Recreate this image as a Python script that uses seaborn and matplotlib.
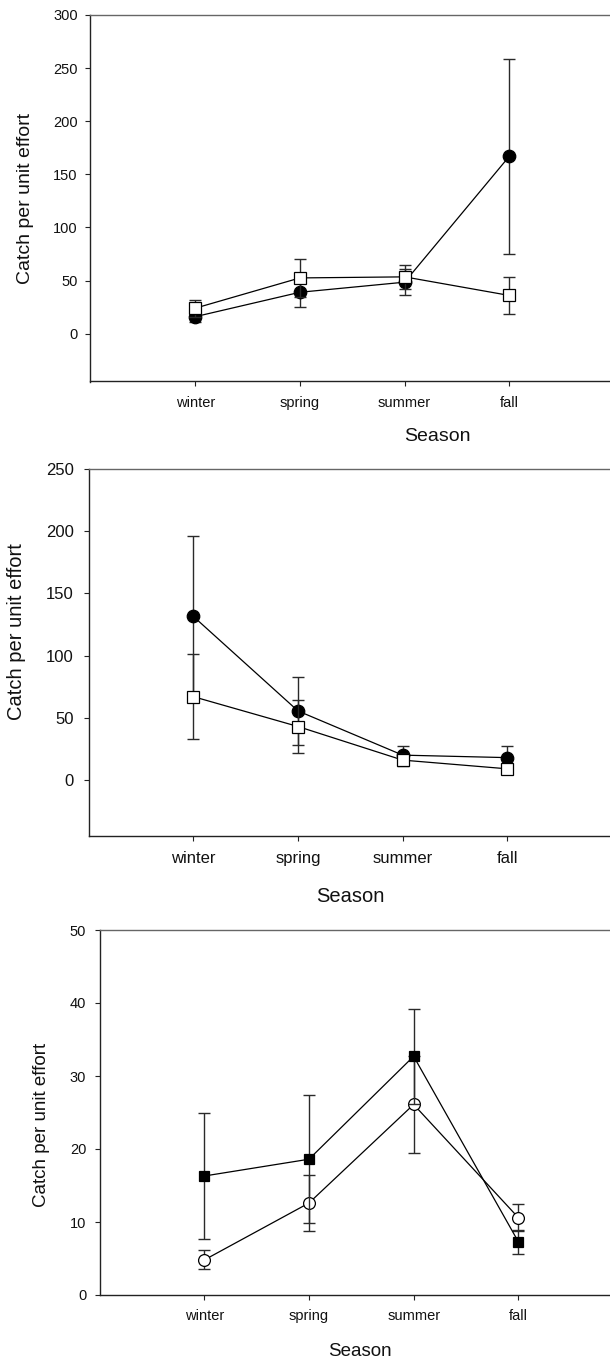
import matplotlib
matplotlib.use("Agg")
import matplotlib.pyplot as plt
import seaborn as sns
import pandas as pd
import numpy as np

# ---------------- data ----------------
seasons = ["winter", "spring", "summer", "fall"]

# Panel 1
p1_circle_mean = [16, 39, 48.5, 167]
p1_circle_err = [5, 14, 12, 92]
p1_square_mean = [24, 52.5, 53.5, 36]
p1_square_err = [8, 17.5, 11, 17.5]

# Panel 2
p2_circle_mean = [131.5, 55.5, 20, 18]
p2_circle_err = [65, 27, 7, 9]
p2_square_mean = [67, 43, 16, 9]
p2_square_err = [34, 21, 5, 4]

# Panel 3
p3_square_mean = [16.3, 18.6, 32.7, 7.3]
p3_square_err = [8.6, 8.8, 6.5, 1.65]
p3_circle_mean = [4.8, 12.6, 26.1, 10.6]
p3_circle_err = [1.3, 3.9, 6.6, 1.9]

y1_ticks = [0, 50, 100, 150, 200, 250, 300]
y2_ticks = [0, 50, 100, 150, 200, 250]
y3_ticks = [0, 10, 20, 30, 40, 50]

ylabel_text = "Catch per unit effort"
xlabel_text = "Season"

# ---------------- style ----------------
sns.set_style("ticks")
plt.rcParams["font.family"] = ["Liberation Sans", "DejaVu Sans"]

W, H = 610, 1361
fig = plt.figure(figsize=(W / 100, H / 100), dpi=100)


def px_axes(left, right, top, bottom):
    return fig.add_axes([left / W, 1 - bottom / H, (right - left) / W, (bottom - top) / H])


def draw_series(ax, mean, err, marker, face, msize, z):
    pos = np.arange(1, len(seasons) + 1)
    df = pd.DataFrame({"pos": pos, "cpue": mean})
    ax.errorbar(pos, mean, yerr=err, fmt="none", ecolor="#2a2a2a",
                elinewidth=1.0, capsize=4.2, capthick=1.0, zorder=z)
    sns.lineplot(data=df, x="pos", y="cpue", ax=ax, color="black", lw=0.9,
                 marker=marker, markersize=msize, markerfacecolor=face,
                 markeredgecolor="black", markeredgewidth=0.9, sort=False,
                 zorder=z + 1)


def style_axes(ax, ylim, yticks, tick_fs, label_fs, xlab_xy, ylab_xy, ypad, xpad):
    ax.set_xlim(0, 5)
    ax.set_ylim(*ylim)
    ax.set_yticks(yticks)
    ax.set_xticks(np.arange(1, len(seasons) + 1))
    ax.set_xticklabels(seasons)
    ax.tick_params(axis="both", direction="out", length=3.6, width=0.8,
                   color="#222", labelsize=tick_fs, labelcolor="#111")
    ax.tick_params(axis="y", pad=ypad)
    ax.tick_params(axis="x", pad=xpad)
    for s in ["left", "bottom"]:
        ax.spines[s].set_color("#222")
        ax.spines[s].set_linewidth(1.0)
    ax.spines["top"].set_visible(True)
    ax.spines["top"].set_color("#666")
    ax.spines["top"].set_linewidth(1.0)
    ax.spines["right"].set_visible(False)
    ax.set_xlabel(xlabel_text, fontsize=label_fs, color="#111")
    ax.set_ylabel(ylabel_text, fontsize=label_fs, color="#111")
    ax.xaxis.label.set_va("center")
    ax.yaxis.label.set_va("center")
    ax.xaxis.set_label_coords(xlab_xy[0] / W, 1 - xlab_xy[1] / H, transform=fig.transFigure)
    ax.yaxis.set_label_coords(ylab_xy[0] / W, 1 - ylab_xy[1] / H, transform=fig.transFigure)
    ax.set_facecolor("white")


# Panel 1
ax1 = px_axes(90.5, 614, 15, 381.5)
draw_series(ax1, p1_circle_mean, p1_circle_err, "o", "black", 9, 2)
draw_series(ax1, p1_square_mean, p1_square_err, "s", "white", 8, 4)
style_axes(ax1, (-45, 300), y1_ticks, 10.5, 14, (437, 437), (26, 198), 5.5, 6.5)

# Panel 2
ax2 = px_axes(88.7, 612, 469, 836)
draw_series(ax2, p2_circle_mean, p2_circle_err, "o", "black", 9, 2)
draw_series(ax2, p2_square_mean, p2_square_err, "s", "white", 8, 4)
style_axes(ax2, (-45, 250), y2_ticks, 12, 14.5, (350, 896), (17, 632), 7, 7)

# Panel 3
ax3 = px_axes(99.6, 623, 930, 1295)
draw_series(ax3, p3_circle_mean, p3_circle_err, "o", "white", 8.5, 2)
draw_series(ax3, p3_square_mean, p3_square_err, "s", "black", 7.5, 4)
style_axes(ax3, (0, 50), y3_ticks, 10.5, 13.5, (360, 1352), (42, 1125), 6, 6.5)

fig.savefig("out.png", dpi=100, facecolor="white")
